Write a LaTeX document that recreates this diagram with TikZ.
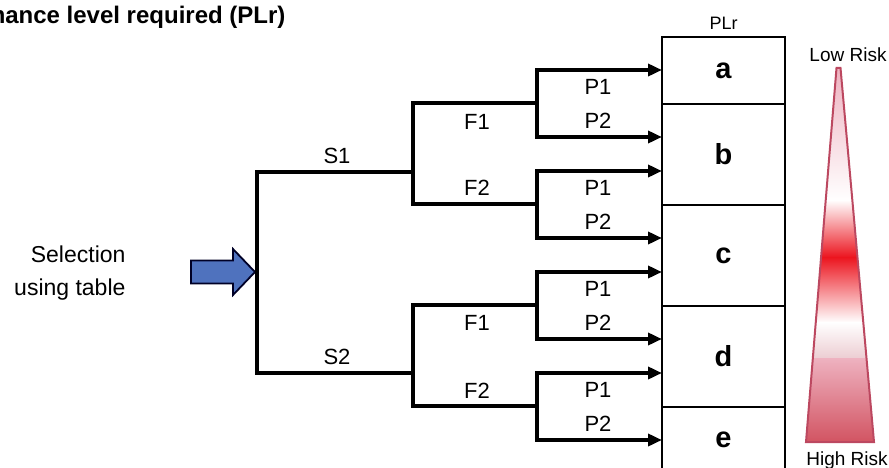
\documentclass[tikz,border=0pt]{standalone}
\usepackage{fontspec}
\setmainfont{Liberation Sans}
\usetikzlibrary{arrows.meta,positioning}
\definecolor{selblue}{RGB}{79,114,190}
\definecolor{riskred}{RGB}{236,20,30}
\definecolor{riskpink}{RGB}{238,178,192}
\definecolor{riskpale}{RGB}{236,205,210}
\definecolor{riskdark}{RGB}{210,84,98}
\definecolor{riskedge}{RGB}{188,72,96}

\begin{document}
\begin{tikzpicture}[x=1pt,y=-1pt,
        branch/.style={line width=4.5pt},
        leafarrows/.style={{Triangle[length=14pt,width=12pt]}-{Triangle[length=14pt,width=12pt]}},
        lbl/.style={font=\fontsize{22}{26}\selectfont},
        small/.style={font=\fontsize{19}{23}\selectfont},
        plrbox/.style={draw,line width=1.2pt,outer sep=0pt,minimum width=123pt,
            font=\fontsize{29}{33}\selectfont\bfseries}]
        \useasboundingbox (0,0) rectangle (889,468);

        \node[font=\fontsize{24}{29}\selectfont\bfseries,anchor=base east] (title) at (289,24) {Performance level required (PLr)};

        % PLr column
        \node[plrbox,minimum height=67pt,anchor=north west] (a) at (662,37) {a};
        \node[plrbox,minimum height=101pt,below=0pt of a] (b) {b};
        \node[plrbox,minimum height=101pt,below=0pt of b] (c) {c};
        \node[plrbox,minimum height=101pt,below=0pt of c] (d) {d};
        \node[plrbox,minimum height=66pt,below=0pt of d] (e) {e};
        \node[font=\fontsize{18}{22}\selectfont,above=4pt of a] (plr) {PLr};

        % risk scale
        \begin{scope}
            \clip (836.5,68) -- (840.5,68) -- (874,442) -- (806,442) -- cycle;
            \shade[top color=riskpink,bottom color=white] (800,68) rectangle (880,200.5);
            \shade[top color=white,bottom color=riskred] (800,200) rectangle (880,257.5);
            \shade[top color=riskred,bottom color=white] (800,257) rectangle (880,322.5);
            \shade[top color=white,bottom color=riskpale] (800,322) rectangle (880,358.5);
            \shade[top color=riskpink,bottom color=riskdark] (800,358) rectangle (880,442);
        \end{scope}
        \draw[riskedge,line width=2pt] (836.5,68) -- (840.5,68) -- (874,442) -- (806,442) -- cycle;
        \node[small,anchor=base] (low) at (848,62) {Low Risk};
        \node[small,anchor=base] (high) at (847,465) {High Risk};

        % decision tree
        \node[font=\fontsize{23}{33}\selectfont,align=right,anchor=east] (sel) at (129,273) {Selection\\using table};
        \coordinate (root) at (257,272);
        \coordinate (s1) at (413,172);
        \coordinate (s2) at (413,373);
        \draw[fill=selblue,draw=black!85!blue,line width=1.8pt] (root) ++(-2,0) -- ++(-22,-23) -- ++(0,11.5)
            -- ++(-42,0) -- ++(0,23) -- ++(42,0) -- ++(0,11.5) -- cycle;
        \draw[branch] (s1) -| (root) |- (s2);
        \node[lbl] (s1l) at (337,156) {S1};
        \node[lbl] (s2l) at (337,357) {S2};

        \foreach \f/\y/\u/\l in {s1f1/103/a/b,s1f2/204/b/c,s2f1/305/c/d,s2f2/406/d/e}{
            \coordinate (\f) at (537,\y);
            \coordinate (\f-p1) at (\u.west |- 0,\y-33);
            \coordinate (\f-p2) at (\l.west |- 0,\y+34);
            \draw[branch,leafarrows] (\f-p1) -| (\f) |- (\f-p2);
            \node[lbl] (\f-l1) at (598,\y-16) {P1};
            \node[lbl] (\f-l2) at (598,\y+18) {P2};
        }
        \draw[branch] (s1f1) -| (s1) |- (s1f2);
        \draw[branch] (s2f1) -| (s2) |- (s2f2);
        \node[lbl] (s1f1l) at (477,122) {F1};
        \node[lbl] (s1f2l) at (477,188) {F2};
        \node[lbl] (s2f1l) at (477,323) {F1};
        \node[lbl] (s2f2l) at (477,391) {F2};

\end{tikzpicture}
\end{document}
